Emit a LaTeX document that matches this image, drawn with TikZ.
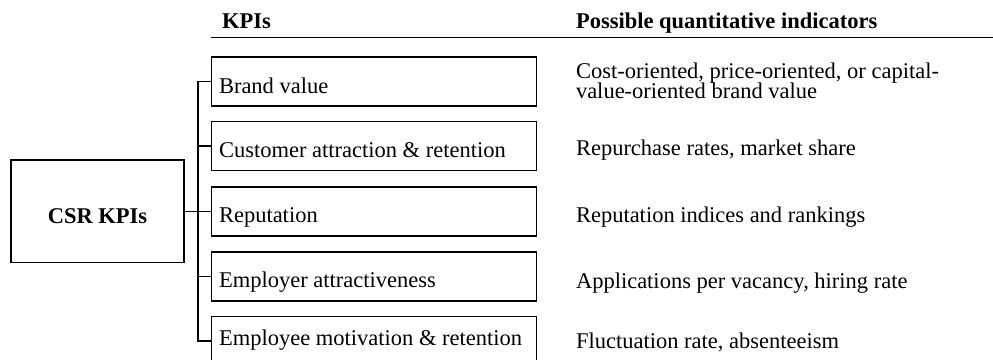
\documentclass[tikz,border=0pt]{standalone}
\usepackage{fontspec}
\setmainfont{Liberation Serif}
\usetikzlibrary{calc}
\begin{document}
\begin{tikzpicture}[x=1pt,y=1pt,
  every node/.style={font=\fontsize{22.5}{21}\selectfont, inner sep=0pt, outer sep=0pt},
  kbox/.style={draw, line width=1.3pt, minimum width=325pt, minimum height=49pt},
  csrbox/.style={draw, line width=1.3pt, minimum width=173pt, minimum height=102.5pt},
  lbl/.style={anchor=base west},
  hdr/.style={anchor=base west, font=\fontsize{22.5}{21}\selectfont\bfseries},
  conn/.style={line width=1.3pt}
]
\useasboundingbox (0,0) rectangle (993,359);
% headers
\node[hdr] (h1) at (222,330.5) {KPIs};
\node[hdr] (h2) at (576,330.5) {Possible quantitative indicators};
\coordinate (hl) at (211,321.5);
\coordinate (hr) at (993,321.5);
\draw[conn] (hl) -- (hr);
% CSR box
\node[csrbox] (csr) at (97.5,147.75) {};
\node[anchor=base, font=\fontsize{22.5}{21}\selectfont\bfseries] (csrt) at (97.5,135) {CSR KPIs};
% KPI boxes
\node[kbox] (b1) at (374,277.5) {};
\node[kbox] (b2) at (374,213) {};
\node[kbox] (b3) at (374,147.5) {};
\node[kbox] (b4) at (374,82.5) {};
\node[kbox] (b5) at (374,18) {};
\node[lbl] (l1) at (219,265) {Brand value};
\node[lbl] (l2) at (219,201) {Customer attraction \& retention};
\node[lbl] (l3) at (219,136) {Reputation};
\node[lbl] (l4) at (219,71.5) {Employer attractiveness};
\node[lbl] (l5) at (219,14) {Employee motivation \& retention};
% indicators
\node[lbl] (r1a) at (576,280.5) {Cost-oriented, price-oriented, or capital-};
\node[lbl] (r1b) at (576,260) {value-oriented brand value};
\node[lbl] (r2) at (576,203) {Repurchase rates, market share};
\node[lbl] (r3) at (576,136) {Reputation indices and rankings};
\node[lbl] (r4) at (576,71) {Applications per vacancy, hiring rate};
\node[lbl] (r5) at (576,11) {Fluctuation rate, absenteeism};
% tree
\coordinate (trunk) at (198,0);
\draw[conn] (b1.west) -- (b1.west -| trunk) -- (b5.west -| trunk) -- (b5.west);
\draw[conn] (b2.west) -- (b2.west -| trunk);
\draw[conn] (b3.west) -- (b3.west -| trunk);
\draw[conn] (b4.west) -- (b4.west -| trunk);
\draw[conn] (csr.east) -- (csr.east -| trunk);
\end{tikzpicture}
\end{document}
